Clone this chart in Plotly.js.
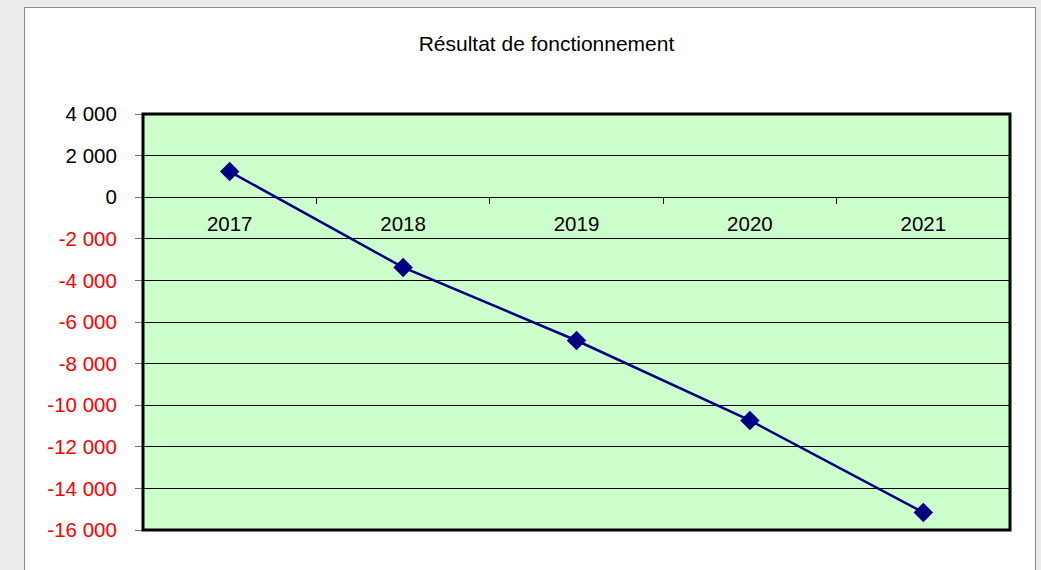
<!DOCTYPE html>
<html>
<head>
<meta charset="utf-8">
<script src="https://cdn.plot.ly/plotly-3.0.1.min.js"></script>
<style>
  html, body { margin: 0; padding: 0; background: #ececec; overflow: hidden; width: 1041px; height: 570px; }
  #chart { position: absolute; left: 24px; top: 7px; width: 1010px; height: 570px;
           border: 1px solid #8c8c8c; border-bottom: none; background: #ffffff; }
</style>
</head>
<body>
<div id="chart"></div>
<script>
const chartTitle = 'Résultat de fonctionnement';
const years = ['2017', '2018', '2019', '2020', '2021'];
const resultat = [1230, -3375, -6890, -10730, -15155];
const yTickVals = [4000, 2000, 0, -2000, -4000, -6000, -8000, -10000, -12000, -14000, -16000];
const yTickLabels = ['4 000', '2 000', '0', '-2 000', '-4 000', '-6 000', '-8 000', '-10 000', '-12 000', '-14 000', '-16 000'];

const yTickText = yTickVals.map((v, i) =>
  v < 0 ? '<span style="color:#ff0000">' + yTickLabels[i] + '</span>' : yTickLabels[i]);

const font = 'Liberation Sans, Arial, sans-serif';

const trace = {
  type: 'scatter',
  mode: 'lines+markers',
  x: years,
  y: resultat,
  line: { color: '#000080', width: 2.5 },
  marker: { symbol: 'diamond', size: 15, color: '#000080' },
  hoverinfo: 'x+y'
};

const layout = {
  width: 1010,
  height: 570,
  autosize: false,
  margin: { l: 118, r: 25, t: 106, b: 48 },
  paper_bgcolor: '#ffffff',
  plot_bgcolor: '#ccffcc',
  showlegend: false,
  font: { family: font, size: 20, color: '#000000' },
  title: {
    text: chartTitle,
    font: { family: font, size: 21, color: '#000000' },
    xref: 'container', yref: 'container',
    x: 0.5163, xanchor: 'center',
    y: 0.937, yanchor: 'middle'
  },
  xaxis: {
    type: 'category',
    range: [-0.5, 4.5],
    anchor: 'free',
    position: 0.8,
    showgrid: false,
    showline: false,
    zeroline: false,
    ticks: 'outside',
    tickson: 'boundaries',
    ticklen: 6,
    tickwidth: 1,
    tickcolor: '#000000',
    ticklabelstandoff: 12,
    tickfont: { family: font, size: 20.5, color: '#000000' }
  },
  yaxis: {
    range: [-16000, 4000],
    tickmode: 'array',
    tickvals: yTickVals,
    ticktext: yTickText,
    showgrid: true,
    gridcolor: '#000000',
    gridwidth: 1,
    zeroline: false,
    showline: false,
    ticks: 'outside',
    ticklen: 7,
    tickwidth: 1,
    tickcolor: '#707070',
    ticklabelstandoff: 14,
    tickfont: { family: font, size: 20.5, color: '#000000' }
  },
  shapes: [{
    type: 'rect', xref: 'paper', yref: 'paper',
    x0: 0, x1: 1, y0: 0, y1: 1,
    line: { color: '#000000', width: 3 },
    fillcolor: 'rgba(0,0,0,0)',
    layer: 'above'
  }]
};

Plotly.newPlot('chart', [trace], layout, { displayModeBar: false, staticPlot: true });
</script>
</body>
</html>
